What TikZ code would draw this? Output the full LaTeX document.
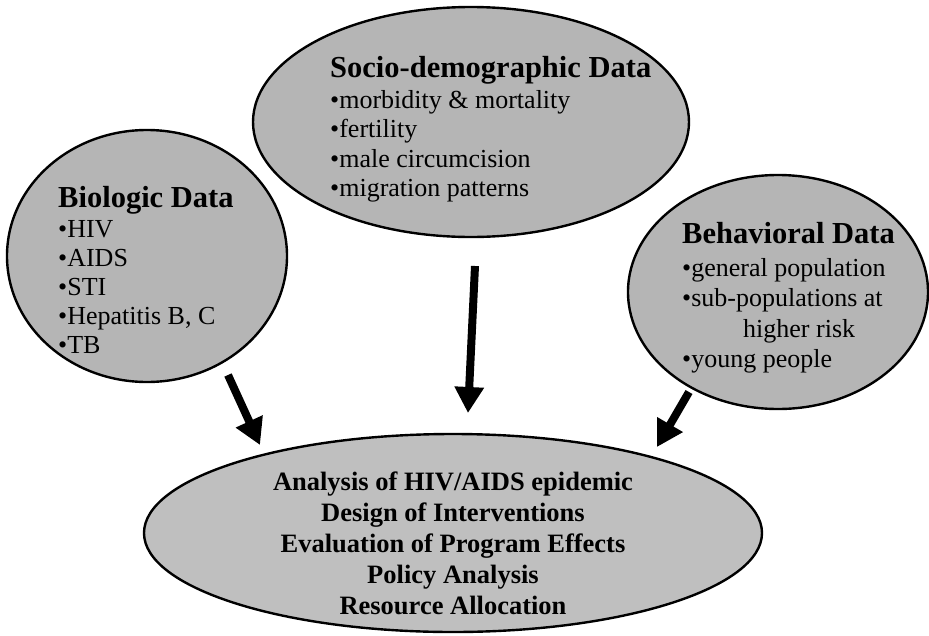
\documentclass[tikz,border=0pt]{standalone}
\usepackage{fontspec}
\setmainfont{Liberation Serif}
\usetikzlibrary{shapes.geometric,arrows.meta}
\begin{document}
\begin{tikzpicture}[x=1pt,y=-1pt,
  blob/.style={ellipse, draw=black, line width=2.4pt, fill=#1, inner sep=0pt},
  blob/.default={black!29},
  head/.style={anchor=base west, inner sep=0pt, font=\fontsize{30.5}{36}\selectfont\bfseries},
  item/.style={anchor=base west, inner sep=0pt, font=\fontsize{26}{30}\selectfont},
  goal/.style={anchor=base, inner sep=0pt, font=\fontsize{26.5}{31}\selectfont\bfseries},
  feed/.style={line width=8pt, -{Triangle[length=26pt,width=28pt]}}
]
\path[use as bounding box, fill=white] (0,0) rectangle (929,635);

% data sources and the outcome ellipse
\node[blob, minimum width=280pt, minimum height=252pt] (bio) at (147,256) {};
\node[blob, minimum width=436pt, minimum height=230pt] (soc) at (471,122) {};
\node[blob, minimum width=300pt, minimum height=234pt] (beh) at (778,292) {};
\node[blob=black!25, minimum width=618pt, minimum height=198pt] (use) at (453,533) {};

% Biologic data
\node[head] (biot) at (58,207) {Biologic Data};
\foreach \t [count=\i] in {HIV, AIDS, STI, {Hepatitis B, C}, TB}
  \node[item] (bio\i) at (58,{208+29*\i}) {•\t};

% Socio-demographic data
\node[head] (soct) at (330,77) {Socio-demographic Data};
\foreach \t [count=\i] in {morbidity \& mortality, fertility, male circumcision, migration patterns}
  \node[item] (soc\i) at (330,{78.5+29.5*\i}) {•\t};

% Behavioral data
\node[head] (beht) at (682,243) {Behavioral Data};
\node[item] (beh1) at (682,276) {•general population};
\node[item] (beh2) at (682,306.5) {•sub-populations at};
\node[item] (beh3) at (743,337) {higher risk};
\node[item] (beh4) at (682,367.5) {•young people};

% Uses of the combined data
\foreach \t [count=\i] in {Analysis of HIV/AIDS epidemic, Design of Interventions,
    Evaluation of Program Effects, Policy Analysis, Resource Allocation}
  \node[goal] (use\i) at (453,{459+31*\i}) {\t};

% arrows feeding the analysis
\coordinate (bioout) at (228,375);
\coordinate (bioin)  at (260,445);
\coordinate (socout) at (475,266);
\coordinate (socin)  at (468,413);
\coordinate (behout) at (689,392);
\coordinate (behin)  at (657,447);
\draw[feed] (bioout) -- (bioin);
\draw[feed] (socout) -- (socin);
\draw[feed] (behout) -- (behin);
\end{tikzpicture}
\end{document}
